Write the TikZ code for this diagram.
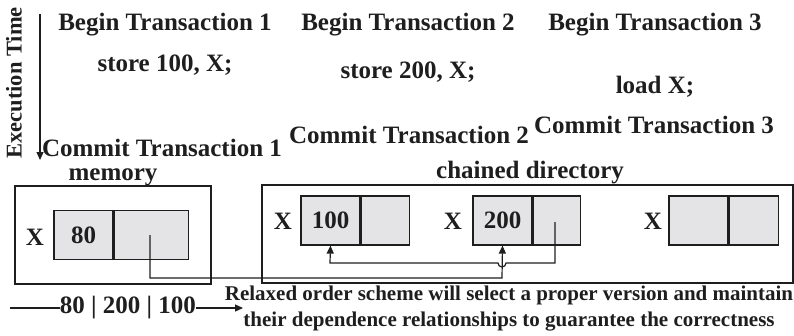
\documentclass[tikz,border=0pt]{standalone}
\usepackage{fontspec}
\setmainfont{Liberation Serif}
\usetikzlibrary{arrows.meta}
\definecolor{cellgray}{HTML}{E4E4E6}
\definecolor{ink}{HTML}{1E1E1E}
\tikzset{
  lbl/.style={font=\bfseries\fontsize{25}{28}\selectfont, text=ink, inner sep=0pt},
  small/.style={font=\bfseries\fontsize{21}{26}\selectfont, text=ink, inner sep=0pt, align=center},
  cell/.style={draw=ink, line width=1.2pt, fill=cellgray, minimum height=49pt, inner sep=0pt, font=\bfseries\fontsize{25}{28}\selectfont, text=ink},
  frame/.style={draw=ink, line width=1.2pt},
  conn/.style={draw=ink, line width=1.2pt},
  tip/.style={-{Triangle[length=8pt,width=7pt]}}
}
\begin{document}
\begin{tikzpicture}[x=1pt,y=-1pt]
\useasboundingbox (0,0) rectangle (794,335);
% time axis
\node[lbl, rotate=90, font=\bfseries\fontsize{22.5}{25}\selectfont] (et) at (14,83) {Execution Time};
\coordinate (ta) at (40,14);
\coordinate (tb) at (40,160);
\draw[conn, tip] (ta) -- (tb);
% transactions
\node[lbl] (b1) at (165,25) {Begin Transaction 1};
\node[lbl] (s1) at (165,65) {store 100, X;};
\node[lbl] (c1) at (162,148) {Commit Transaction 1};
\node[lbl] (b2) at (408,25) {Begin Transaction 2};
\node[lbl] (s2) at (408,72) {store 200, X;};
\node[lbl] (c2) at (409,135) {Commit Transaction 2};
\node[lbl] (b3) at (655,25) {Begin Transaction 3};
\node[lbl] (l3) at (655,87) {load X;};
\node[lbl] (c3) at (654,125) {Commit Transaction 3};
% memory
\node[lbl] (memlbl) at (113,177) {memory};
\draw[frame] (15,186) rectangle (211,284);
\node[cell, minimum width=59pt] (m80) at (83.5,235) {80};
\node[cell, minimum width=74pt, anchor=west] (mp) at (m80.east) {};
\node[lbl] (mx) at (35,237) {X};
% chained directory
\node[lbl] (cdlbl) at (530,173) {chained directory};
\draw[frame] (262,185) rectangle (793,283);
\node[cell, minimum width=59pt] (v100) at (330.5,220.5) {100};
\node[cell, minimum width=48pt, anchor=west] (p100) at (v100.east) {};
\node[lbl] (x100) at (283,221) {X};
\node[cell, minimum width=59pt] (v200) at (502.5,220.5) {200};
\node[cell, minimum width=47pt, anchor=west] (p200) at (v200.east) {};
\node[lbl] (x200) at (453,221) {X};
\node[cell, minimum width=59pt] (v3) at (698.5,220.5) {};
\node[cell, minimum width=49pt, anchor=west] (p3) at (v3.east) {};
\node[lbl] (x3) at (653,221) {X};
% connectors
\coordinate (mpd) at (150,235);
\draw[conn, tip] (mpd) -- (150,278) -- (502,278) -- (v200.south);
\coordinate (p2d) at (555,222);
\draw[conn, tip] (p2d) -- (555,263) -- (506,263) arc[start angle=0, end angle=180, radius=4] -- (330,263) -- (v100.south);
% bottom
\node[lbl] (seq) at (128,308) {80 | 200 | 100};
\coordinate (sl) at (10,308);
\coordinate (sr) at (243,308);
\draw[conn] (sl) -- (seq.west);
\draw[conn, tip] (seq.east) -- (sr);
\node[small] (note) at (509,309) {Relaxed order scheme will select a proper version and maintain\\their dependence relationships to guarantee the correctness};
\end{tikzpicture}
\end{document}
